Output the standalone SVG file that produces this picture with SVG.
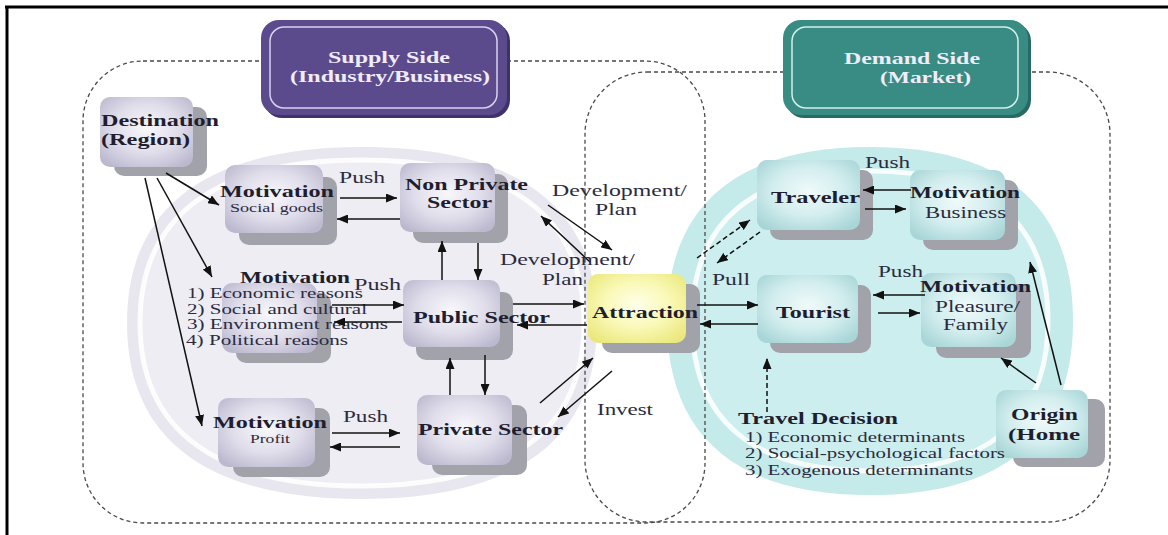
<svg xmlns="http://www.w3.org/2000/svg" width="1168" height="535" viewBox="0 0 1168 535">
<style>
text{font-family:"Liberation Serif","Times New Roman",serif}
.b{font-weight:bold;font-size:17px;fill:#1E1E30}
.r{font-size:16px;fill:#2B2B40}
.s{font-size:15px;fill:#2B2B40}
.xs{font-size:13px;fill:#2B2B40}
.hd{font-weight:bold;font-size:17px;fill:#F0ECFA}
.sh{fill:#A2A2AA}
.lav{fill:url(#gLav)}
.tea{fill:url(#gTeal)}
.yel{fill:url(#gYel)}
.dash{fill:none;stroke:#4A4A4A;stroke-width:1.3;stroke-dasharray:4 3}
.ar{fill:none;stroke:#111;stroke-width:1.5;marker-end:url(#ah)}
.ad{fill:none;stroke:#111;stroke-width:1.5;stroke-dasharray:5 3;marker-end:url(#ah)}
</style>
<defs>
<radialGradient id="gLav" cx="50%" cy="45%" r="65%">
<stop offset="0" stop-color="#F8F7FB"/><stop offset="0.55" stop-color="#DFDDEA"/><stop offset="1" stop-color="#BCB9CF"/>
</radialGradient>
<radialGradient id="gTeal" cx="50%" cy="45%" r="65%">
<stop offset="0" stop-color="#F0FAFA"/><stop offset="0.55" stop-color="#D2EDEE"/><stop offset="1" stop-color="#A8D5D7"/>
</radialGradient>
<radialGradient id="gYel" cx="50%" cy="45%" r="65%">
<stop offset="0" stop-color="#FFFFEA"/><stop offset="0.5" stop-color="#FAF9B8"/><stop offset="1" stop-color="#EAE87C"/>
</radialGradient>
<marker id="ah" markerUnits="userSpaceOnUse" markerWidth="11" markerHeight="9" refX="11" refY="4.5" orient="auto">
<path d="M0,0 L11,4.5 L0,9 z" fill="#111"/>
</marker>
</defs>
<rect width="1168" height="535" fill="#FFFFFF"/>
<g id="frame">
<line x1="5" y1="7" x2="1168" y2="7" stroke="#000" stroke-width="3"/>
<line x1="7" y1="6" x2="7" y2="535" stroke="#000" stroke-width="3"/>
</g>
<g id="background">
<path d="M597,323 C597,439.2 517.1,499 362,499 C206.9,499 127,439.2 127,323 C127,206.8 206.9,147 362,147 C517.1,147 597,206.8 597,323 Z" fill="#E8E7EF"/>
<path d="M584,323 C584,430.6 508.5,486 362,486 C215.5,486 140,430.6 140,323 C140,215.4 215.5,160 362,160 C508.5,160 584,215.4 584,323 Z" fill="#EEEDF3" stroke="#FFFFFF" stroke-width="5" stroke-opacity="0.85"/>
<path d="M1073,321 C1073,435.8 1004,495 870,495 C736,495 667,435.8 667,321 C667,206.2 736,147 870,147 C1004,147 1073,206.2 1073,321 Z" fill="#C4EAEA"/>
<path d="M1048,321 C1048,420 987.5,471 870,471 C752.5,471 692,420 692,321 C692,222 752.5,171 870,171 C987.5,171 1048,222 1048,321 Z" fill="#CDEEEE" stroke="#FFFFFF" stroke-width="5" stroke-opacity="0.85"/>
</g>
<g id="regions">
<rect class="dash" x="83" y="61" width="622" height="462" rx="60"/>
<rect class="dash" x="585" y="72" width="525" height="450" rx="62"/>
</g>
<g id="supply-side">
<rect x="264" y="23" width="246" height="95" rx="18" fill="#3F3169"/>
<rect x="261" y="20" width="246" height="95" rx="18" fill="#5B4B8D"/>
<rect x="270" y="27" width="227" height="81" rx="14" fill="none" stroke="#D9D2F0" stroke-width="1.5"/>
<text class="hd" x="328" y="63" textLength="122" lengthAdjust="spacingAndGlyphs">Supply Side</text>
<text class="hd" x="290" y="82" textLength="200" lengthAdjust="spacingAndGlyphs">(Industry/Business)</text>
</g>
<g id="demand-side">
<rect x="786" y="23" width="245" height="95" rx="18" fill="#256A63"/>
<rect x="783" y="20" width="245" height="95" rx="18" fill="#398C83"/>
<rect x="792" y="27" width="226" height="81" rx="14" fill="none" stroke="#D2F0EC" stroke-width="1.5"/>
<text class="hd" x="844" y="64" textLength="136" lengthAdjust="spacingAndGlyphs">Demand Side</text>
<text class="hd" x="880" y="83" textLength="91" lengthAdjust="spacingAndGlyphs">(Market)</text>
</g>
<g id="destination">
<rect class="sh" x="114" y="107" width="93" height="69" rx="10"/>
<rect class="lav" x="100" y="97" width="93" height="70" rx="10"/>
<text class="b" x="101" y="126" textLength="118" lengthAdjust="spacingAndGlyphs">Destination</text>
<text class="b" x="101" y="145" textLength="89" lengthAdjust="spacingAndGlyphs">(Region)</text>
</g>
<g id="motivation-social">
<rect class="sh" x="239" y="177" width="98" height="68" rx="10"/>
<rect class="lav" x="225" y="165" width="98" height="68" rx="10"/>
<text class="b" x="220" y="197" textLength="114" lengthAdjust="spacingAndGlyphs">Motivation</text>
<text class="xs" x="230" y="212" textLength="93" lengthAdjust="spacingAndGlyphs">Social goods</text>
</g>
<g id="non-private">
<rect class="sh" x="413" y="174" width="95" height="69" rx="10"/>
<rect class="lav" x="400" y="163" width="95" height="69" rx="10"/>
<text class="b" x="405" y="190" textLength="123" lengthAdjust="spacingAndGlyphs">Non Private</text>
<text class="b" x="427" y="208" textLength="65" lengthAdjust="spacingAndGlyphs">Sector</text>
</g>
<g id="motivation-reasons">
<rect class="sh" x="236" y="293" width="95" height="70" rx="10"/>
<rect class="lav" x="222" y="283" width="95" height="70" rx="10"/>
<text class="b" x="240" y="283" textLength="110" lengthAdjust="spacingAndGlyphs">Motivation</text>
<text class="s" x="187" y="298" textLength="176" lengthAdjust="spacingAndGlyphs">1) Economic reasons</text>
<text class="s" x="187" y="314" textLength="180" lengthAdjust="spacingAndGlyphs">2) Social and cultural</text>
<text class="s" x="187" y="329" textLength="201" lengthAdjust="spacingAndGlyphs">3) Environment reasons</text>
<text class="s" x="186" y="345" textLength="162" lengthAdjust="spacingAndGlyphs">4) Political reasons</text>
</g>
<g id="public-sector">
<rect class="sh" x="416" y="292" width="97" height="68" rx="10"/>
<rect class="lav" x="403" y="280" width="97" height="67" rx="10"/>
<text class="b" x="413" y="323" textLength="137" lengthAdjust="spacingAndGlyphs">Public Sector</text>
</g>
<g id="motivation-profit">
<rect class="sh" x="233" y="408" width="97" height="69" rx="10"/>
<rect class="lav" x="218" y="398" width="97" height="69" rx="10"/>
<text class="b" x="213" y="428" textLength="114" lengthAdjust="spacingAndGlyphs">Motivation</text>
<text class="xs" x="250" y="443" textLength="40" lengthAdjust="spacingAndGlyphs">Profit</text>
</g>
<g id="private-sector">
<rect class="sh" x="432" y="405" width="95" height="70" rx="10"/>
<rect class="lav" x="417" y="395" width="95" height="70" rx="10"/>
<text class="b" x="418" y="435" textLength="145" lengthAdjust="spacingAndGlyphs">Private Sector</text>
</g>
<g id="attraction">
<rect class="sh" x="602" y="284" width="98" height="69" rx="10"/>
<rect class="yel" x="588" y="274" width="98" height="69" rx="10"/>
<text class="b" x="592" y="318" textLength="106" lengthAdjust="spacingAndGlyphs">Attraction</text>
</g>
<g id="traveler">
<rect class="sh" x="770" y="170" width="103" height="70" rx="10"/>
<rect class="tea" x="757" y="160" width="103" height="70" rx="10"/>
<text class="b" x="771" y="203" textLength="89" lengthAdjust="spacingAndGlyphs">Traveler</text>
</g>
<g id="motivation-business">
<rect class="sh" x="923" y="180" width="95" height="70" rx="10"/>
<rect class="tea" x="910" y="170" width="95" height="70" rx="10"/>
<text class="b" x="910" y="198" textLength="110" lengthAdjust="spacingAndGlyphs">Motivation</text>
<text class="r" x="925" y="218" textLength="81" lengthAdjust="spacingAndGlyphs">Business</text>
</g>
<g id="tourist">
<rect class="sh" x="770" y="285" width="101" height="68" rx="10"/>
<rect class="tea" x="757" y="275" width="101" height="68" rx="10"/>
<text class="b" x="776" y="318" textLength="74" lengthAdjust="spacingAndGlyphs">Tourist</text>
</g>
<g id="motivation-pleasure">
<rect class="sh" x="936" y="284" width="95" height="74" rx="10"/>
<rect class="tea" x="921" y="273" width="95" height="74" rx="10"/>
<text class="b" x="920" y="292" textLength="111" lengthAdjust="spacingAndGlyphs">Motivation</text>
<text class="r" x="935" y="312" textLength="85" lengthAdjust="spacingAndGlyphs">Pleasure/</text>
<text class="r" x="943" y="330" textLength="65" lengthAdjust="spacingAndGlyphs">Family</text>
</g>
<g id="origin">
<rect class="sh" x="1013" y="399" width="92" height="68" rx="10"/>
<rect class="tea" x="996" y="390" width="92" height="68" rx="10"/>
<text class="b" x="1011" y="420" textLength="67" lengthAdjust="spacingAndGlyphs">Origin</text>
<text class="b" x="1008" y="440" textLength="72" lengthAdjust="spacingAndGlyphs">(Home</text>
</g>
<g id="travel-decision">
<text class="b" x="738" y="424" style="font-size:16px" textLength="160" lengthAdjust="spacingAndGlyphs">Travel Decision</text>
<text class="s" x="745" y="442" style="font-size:14px" textLength="220" lengthAdjust="spacingAndGlyphs">1) Economic determinants</text>
<text class="s" x="745" y="458" style="font-size:14px" textLength="260" lengthAdjust="spacingAndGlyphs">2) Social-psychological factors</text>
<text class="s" x="745" y="475" style="font-size:14px" textLength="228" lengthAdjust="spacingAndGlyphs">3) Exogenous determinants</text>
</g>
<g id="connectors">
<line class="ar" x1="166" y1="173" x2="219" y2="205"/>
<line class="ar" x1="157" y1="178" x2="212" y2="277"/>
<line class="ar" x1="145" y1="178" x2="202" y2="426"/>
<line class="ar" x1="340" y1="198" x2="397" y2="198"/>
<line class="ar" x1="400" y1="219" x2="337" y2="219"/>
<line class="ar" x1="442" y1="280" x2="442" y2="241"/>
<line class="ar" x1="478" y1="243" x2="478" y2="280"/>
<line class="ar" x1="332" y1="305" x2="404" y2="305"/>
<line class="ar" x1="402" y1="322" x2="334" y2="322"/>
<line class="ar" x1="513" y1="304" x2="584" y2="304"/>
<line class="ar" x1="587" y1="325" x2="517" y2="325"/>
<line class="ar" x1="450" y1="395" x2="450" y2="358"/>
<line class="ar" x1="485" y1="355" x2="485" y2="395"/>
<line class="ar" x1="332" y1="433" x2="400" y2="433"/>
<line class="ar" x1="400" y1="447" x2="330" y2="447"/>
<line class="ar" x1="540" y1="403" x2="593" y2="358"/>
<line class="ar" x1="612" y1="371" x2="558" y2="417"/>
<line class="ar" x1="548" y1="205" x2="612" y2="250"/>
<line class="ar" x1="590" y1="262" x2="541" y2="216"/>
<line class="ar" x1="697" y1="305" x2="758" y2="305"/>
<line class="ar" x1="758" y1="324" x2="700" y2="324"/>
<line class="ad" x1="697" y1="258" x2="750" y2="220"/>
<line class="ad" x1="760" y1="232" x2="717" y2="263"/>
<line class="ad" x1="767" y1="412" x2="767" y2="358"/>
<line class="ar" x1="911" y1="190" x2="863" y2="190"/>
<line class="ar" x1="865" y1="209" x2="906" y2="209"/>
<line class="ar" x1="925" y1="295" x2="873" y2="295"/>
<line class="ar" x1="878" y1="313" x2="920" y2="313"/>
<line class="ar" x1="1036" y1="383" x2="1001" y2="358"/>
<line class="ar" x1="1061" y1="385" x2="1030" y2="262"/>
<text class="r" x="339" y="183" textLength="46" lengthAdjust="spacingAndGlyphs">Push</text>
<text class="r" x="354" y="290" textLength="47" lengthAdjust="spacingAndGlyphs">Push</text>
<text class="r" x="343" y="422" textLength="45" lengthAdjust="spacingAndGlyphs">Push</text>
<text class="r" x="552" y="196" style="font-size:17px" textLength="135" lengthAdjust="spacingAndGlyphs">Development/</text>
<text class="r" x="595" y="215" style="font-size:17px" textLength="42" lengthAdjust="spacingAndGlyphs">Plan</text>
<text class="r" x="500" y="265" style="font-size:17px" textLength="135" lengthAdjust="spacingAndGlyphs">Development/</text>
<text class="r" x="542" y="285" style="font-size:17px" textLength="41" lengthAdjust="spacingAndGlyphs">Plan</text>
<text class="r" x="597" y="415" textLength="56" lengthAdjust="spacingAndGlyphs">Invest</text>
<text class="r" x="712" y="285" textLength="38" lengthAdjust="spacingAndGlyphs">Pull</text>
<text class="r" x="865" y="168" textLength="45" lengthAdjust="spacingAndGlyphs">Push</text>
<text class="r" x="878" y="277" textLength="45" lengthAdjust="spacingAndGlyphs">Push</text>
</g>
</svg>
